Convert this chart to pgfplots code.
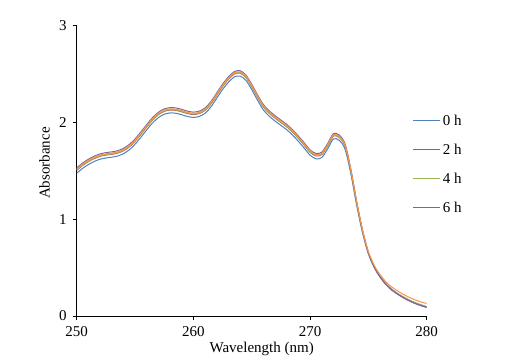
\documentclass[border=0pt]{standalone}
\usepackage{fontspec}
\setmainfont{Liberation Serif}
\usepackage{pgfplots}
\usepackage{pgfplotstable}
\pgfplotsset{compat=1.18}
\definecolor{c0}{HTML}{4F81BD}
\definecolor{c2}{HTML}{C0504D}
\definecolor{c4}{HTML}{9BBB59}
\definecolor{c6}{HTML}{8064A2}
\definecolor{c10}{HTML}{F79646}
\pgfplotstableread{
x h0 h2 h4 h6 h10
250.0 1.475 1.505 1.510 1.530 1.518
250.5 1.525 1.555 1.560 1.580 1.568
251.0 1.565 1.595 1.600 1.620 1.608
251.5 1.597 1.627 1.632 1.652 1.640
252.0 1.620 1.650 1.655 1.675 1.663
252.5 1.633 1.663 1.668 1.688 1.676
253.0 1.641 1.671 1.676 1.696 1.684
253.5 1.653 1.683 1.688 1.708 1.696
254.0 1.677 1.707 1.712 1.732 1.720
254.5 1.717 1.747 1.752 1.772 1.760
255.0 1.775 1.805 1.810 1.830 1.818
255.5 1.847 1.877 1.882 1.902 1.890
256.0 1.923 1.953 1.958 1.978 1.966
256.5 1.995 2.025 2.030 2.050 2.038
257.0 2.050 2.080 2.085 2.105 2.093
257.5 2.085 2.115 2.120 2.140 2.128
258.0 2.098 2.128 2.133 2.153 2.141
258.5 2.095 2.125 2.130 2.150 2.138
259.0 2.080 2.110 2.115 2.135 2.123
259.5 2.062 2.092 2.097 2.117 2.105
260.0 2.052 2.082 2.087 2.107 2.095
260.5 2.062 2.092 2.097 2.117 2.105
261.0 2.095 2.125 2.130 2.150 2.138
261.5 2.160 2.190 2.195 2.215 2.203
262.0 2.250 2.280 2.285 2.305 2.293
262.5 2.340 2.370 2.375 2.395 2.383
263.0 2.415 2.445 2.450 2.470 2.458
263.5 2.470 2.500 2.505 2.525 2.513
264.0 2.480 2.510 2.515 2.535 2.523
264.5 2.435 2.465 2.470 2.490 2.478
265.0 2.340 2.370 2.375 2.395 2.383
265.5 2.230 2.260 2.265 2.285 2.273
266.0 2.130 2.160 2.165 2.185 2.173
266.5 2.065 2.095 2.100 2.120 2.108
267.0 2.015 2.045 2.050 2.070 2.058
267.5 1.970 2.000 2.005 2.025 2.013
268.0 1.925 1.955 1.960 1.980 1.968
268.5 1.870 1.900 1.905 1.925 1.913
269.0 1.805 1.835 1.840 1.860 1.848
269.5 1.735 1.765 1.770 1.790 1.778
270.0 1.662 1.692 1.697 1.717 1.705
270.5 1.625 1.655 1.660 1.680 1.668
271.0 1.637 1.667 1.672 1.692 1.680
271.5 1.725 1.755 1.760 1.780 1.768
272.0 1.830 1.860 1.865 1.885 1.873
272.5 1.815 1.845 1.850 1.870 1.858
273.0 1.725 1.755 1.760 1.780 1.768
273.5 1.468 1.495 1.500 1.515 1.508
274.0 1.142 1.167 1.170 1.180 1.178
274.5 0.860 0.877 0.880 0.885 0.890
275.0 0.642 0.652 0.655 0.655 0.667
275.5 0.500 0.510 0.510 0.507 0.525
276.0 0.402 0.411 0.410 0.405 0.428
276.5 0.325 0.334 0.332 0.327 0.354
277.0 0.268 0.277 0.275 0.270 0.300
277.5 0.225 0.234 0.232 0.227 0.259
278.0 0.188 0.197 0.195 0.190 0.224
278.5 0.156 0.165 0.163 0.158 0.193
279.0 0.129 0.138 0.136 0.131 0.167
279.5 0.107 0.116 0.114 0.109 0.146
280.0 0.088 0.097 0.095 0.090 0.130
}\spectra
\begin{document}
\fontsize{15bp}{18bp}\selectfont
\begin{tikzpicture}[x=1bp,y=1bp]
\useasboundingbox (0,0) rectangle (528,363);
\begin{axis}[
  at={(76.7bp,47bp)}, anchor=south west,
  scale only axis, width=350bp, height=290.3bp,
  xmin=250, xmax=280, ymin=0, ymax=3,
  axis lines=left,
  axis line style={-, line width=1bp, black},
  xtick={250,260,270,280}, ytick={0,1,2,3},
  tick align=outside, major tick length=4bp,
  tick style={black, line width=1bp},
  /pgf/number format/assume math mode=true,
  ticklabel style={font=\fontsize{15bp}{18bp}\selectfont},
  xticklabel style={anchor=north, inner sep=0pt, yshift=-6bp},
  yticklabel style={anchor=east, inner sep=0pt, xshift=-6bp},
  xlabel={Wavelength (nm)},
  ylabel={Absorbance},
  xlabel style={at={(axis description cs:0.5286,-0.125)}, anchor=base, inner sep=0pt},
  ylabel style={at={(axis description cs:-0.0777,0.527)}, anchor=base, inner sep=0pt, rotate=0},
  legend style={draw=none, fill=none, inner sep=0pt, at={(0.96,0.690)}, anchor=north west,
    row sep=19bp, font=\fontsize{15bp}{18bp}\selectfont,
    nodes={inner sep=0pt, text height=10bp, text depth=0pt, anchor=west},
    /tikz/every odd column/.style={column sep=2.4bp}},
  legend cell align=left,
  legend image code/.code={\draw[#1, line width=1bp] (0bp,0bp) -- (26.6bp,0bp);},
]
\addplot[c0, line width=1bp, smooth] table[x=x,y=h0]{\spectra};
\addlegendentry{0 h}
\addplot[c2, line width=1bp, smooth] table[x=x,y=h2]{\spectra};
\addlegendentry{2 h}
\addplot[c4, line width=1bp, smooth] table[x=x,y=h4]{\spectra};
\addlegendentry{4 h}
\addplot[c6, line width=1bp, smooth] table[x=x,y=h6]{\spectra};
\addlegendentry{6 h}
\addplot[c10, line width=1bp, smooth, forget plot] table[x=x,y=h10]{\spectra};
\end{axis}
\end{tikzpicture}
\end{document}
